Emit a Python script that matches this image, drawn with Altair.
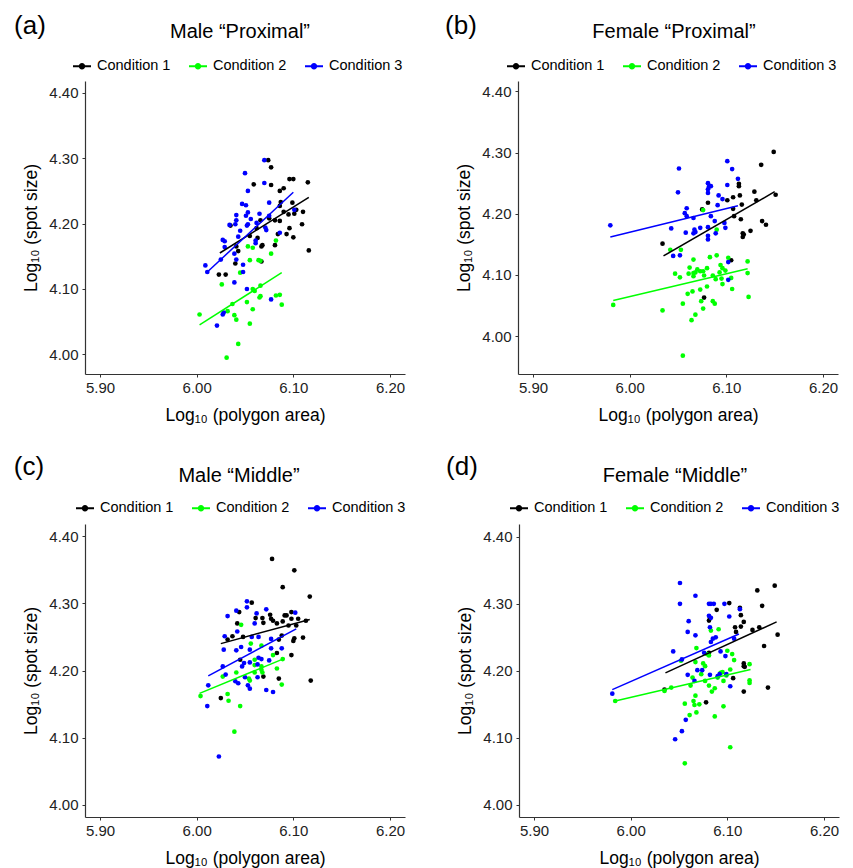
import altair as alt
import pandas as pd

FONT = "Liberation Sans"
CONDITIONS = ["Condition 1", "Condition 2", "Condition 3"]
COLORS = ["#000000", "#00FF00", "#0000FF"]
X_TICKS = [5.90, 6.00, 6.10, 6.20]
Y_TICKS = [4.00, 4.10, 4.20, 4.30, 4.40]
X_DOMAIN = [5.8845, 6.2155]

# ---------------- Panel (a): Male "Proximal" ----------------
A_C1_X = [6.023, 6.030, 6.035, 6.040, 6.041, 6.043, 6.055, 6.059, 6.062, 6.063, 6.066, 6.067, 6.067, 6.068,
          6.074, 6.077, 6.077, 6.075, 6.081, 6.081, 6.086, 6.084, 6.086, 6.087, 6.086, 6.090, 6.090, 6.093,
          6.096, 6.100, 6.099, 6.095, 6.096, 6.100, 6.101, 6.103, 6.109, 6.110, 6.115, 6.116]
A_C1_Y = [4.122, 4.122, 4.197, 4.139, 4.165, 4.158, 4.181, 4.260, 4.193, 4.178, 4.205, 4.165, 4.142, 4.167,
          4.297, 4.286, 4.259, 4.208, 4.205, 4.167, 4.204, 4.184, 4.250, 4.233, 4.227, 4.254, 4.218, 4.184,
          4.268, 4.268, 4.232, 4.214, 4.193, 4.179, 4.215, 4.221, 4.199, 4.218, 4.263, 4.159]
A_C2_X = [6.003, 6.026, 6.032, 6.031, 6.037, 6.039, 6.041, 6.043, 6.045, 6.053, 6.058, 6.055, 6.052, 6.055,
          6.058, 6.058, 6.060, 6.064, 6.066, 6.066, 6.065, 6.066, 6.077, 6.082, 6.082, 6.086, 6.088]
A_C2_Y = [4.061, 4.107, 4.066, 3.995, 4.077, 4.060, 4.053, 4.016, 4.125, 4.165, 4.163, 4.144, 4.080, 4.047,
          4.069, 4.100, 4.097, 4.144, 4.143, 4.105, 4.087, 4.089, 4.154, 4.174, 4.090, 4.091, 4.076]
A_C3_X = [6.009, 6.011, 6.021, 6.027, 6.028, 6.025, 6.027, 6.029, 6.029, 6.034, 6.039, 6.039, 6.040, 6.041,
          6.041, 6.041, 6.043, 6.045, 6.047, 6.048, 6.048, 6.050, 6.051, 6.051, 6.053, 6.053, 6.052, 6.053,
          6.056, 6.052, 6.061, 6.061, 6.062, 6.065, 6.070, 6.070, 6.071, 6.072, 6.075, 6.075, 6.077, 6.086,
          6.101]
A_C3_Y = [4.136, 4.126, 4.044, 4.061, 4.064, 4.145, 4.175, 4.173, 4.164, 4.198, 4.110, 4.154, 4.199, 4.213,
          4.205, 4.145, 4.180, 4.189, 4.230, 4.126, 4.137, 4.277, 4.228, 4.212, 4.217, 4.250, 4.197, 4.199,
          4.207, 4.100, 4.174, 4.170, 4.201, 4.215, 4.262, 4.297, 4.194, 4.190, 4.232, 4.212, 4.084, 4.186,
          4.221]
A_FIT_X = [[6.024, 6.116], [6.003, 6.088], [6.011, 6.100]]
A_FIT_Y = [[4.155, 4.240], [4.045, 4.125], [4.126, 4.248]]

# ---------------- Panel (b): Female "Proximal" ----------------
B_C1_X = [6.034, 6.081, 6.077, 6.101, 6.107, 6.113, 6.113, 6.114, 6.116, 6.107, 6.108, 6.115, 6.117, 6.118,
          6.117, 6.125, 6.105, 6.129, 6.131, 6.136, 6.137, 6.141, 6.149, 6.151, 6.075]
B_C1_Y = [4.151, 4.218, 4.063, 4.222, 4.227, 4.249, 4.245, 4.230, 4.215, 4.208, 4.196, 4.191, 4.168, 4.166,
          4.162, 4.172, 4.124, 4.236, 4.222, 4.280, 4.188, 4.182, 4.301, 4.231, 4.207]
B_C2_X = [5.983, 6.034, 6.042, 6.053, 6.047, 6.052, 6.055, 6.055, 6.060, 6.062, 6.061, 6.066, 6.066, 6.066,
          6.068, 6.070, 6.073, 6.076, 6.073, 6.074, 6.076, 6.068, 6.064, 6.065, 6.080, 6.080, 6.076, 6.083,
          6.090, 6.086, 6.086, 6.088, 6.089, 6.090, 6.093, 6.094, 6.096, 6.095, 6.096, 6.099, 6.102, 6.105,
          6.106, 6.122, 6.122, 6.123, 6.077]
B_C2_Y = [4.051, 4.042, 4.141, 4.141, 4.102, 4.096, 4.053, 3.968, 4.069, 4.112, 4.102, 4.125, 4.103, 4.098,
          4.104, 4.109, 4.106, 4.106, 4.076, 4.057, 4.045, 4.035, 4.026, 4.073, 4.111, 4.081, 4.206, 4.129,
          4.132, 4.099, 4.057, 4.053, 4.093, 4.174, 4.104, 4.116, 4.111, 4.094, 4.085, 4.107, 4.128, 4.095,
          4.077, 4.122, 4.103, 4.064, 4.099]
B_C3_X = [5.980, 6.043, 6.045, 6.052, 6.051, 6.050, 6.059, 6.057, 6.059, 6.058, 6.066, 6.067, 6.066, 6.068,
          6.073, 6.081, 6.082, 6.084, 6.081, 6.081, 6.081, 6.081, 6.081, 6.084, 6.088, 6.089, 6.091, 6.092,
          6.096, 6.099, 6.098, 6.101, 6.101, 6.106, 6.112, 6.102, 6.102]
B_C3_Y = [4.181, 4.176, 4.131, 4.132, 4.274, 4.235, 4.209, 4.201, 4.196, 4.169, 4.193, 4.174, 4.168, 4.170,
          4.177, 4.250, 4.244, 4.245, 4.240, 4.234, 4.178, 4.158, 4.164, 4.196, 4.188, 4.168, 4.214, 4.230,
          4.224, 4.177, 4.185, 4.286, 4.247, 4.273, 4.257, 4.121, 4.092]
B_FIT_X = [[6.035, 6.150], [5.983, 6.122], [5.980, 6.112]]
B_FIT_Y = [[4.131, 4.236], [4.058, 4.110], [4.162, 4.213]]

# ---------------- Panel (c): Male "Middle" ----------------
C_C1_X = [6.025, 6.032, 6.037, 6.042, 6.044, 6.045, 6.048, 6.057, 6.061, 6.068, 6.069, 6.069, 6.076, 6.077,
          6.079, 6.078, 6.083, 6.083, 6.085, 6.085, 6.088, 6.089, 6.089, 6.091, 6.093, 6.095, 6.098, 6.098,
          6.098, 6.100, 6.101, 6.101, 6.103, 6.105, 6.110, 6.113, 6.117, 6.118]
C_C1_Y = [4.159, 4.246, 4.251, 4.270, 4.287, 4.216, 4.250, 4.301, 4.278, 4.278, 4.271, 4.191, 4.283, 4.277,
          4.274, 4.366, 4.270, 4.226, 4.188, 4.246, 4.252, 4.324, 4.273, 4.282, 4.282, 4.267, 4.287, 4.277,
          4.223, 4.244, 4.248, 4.349, 4.267, 4.277, 4.249, 4.274, 4.310, 4.185]
C_C2_X = [6.004, 6.027, 6.032, 6.033, 6.039, 6.041, 6.045, 6.046, 6.054, 6.055, 6.056, 6.060, 6.060, 6.060,
          6.067, 6.067, 6.067, 6.068, 6.079, 6.083, 6.089, 6.088]
C_C2_Y = [4.162, 4.191, 4.165, 4.155, 4.109, 4.197, 4.147, 4.268, 4.188, 4.185, 4.240, 4.216, 4.208, 4.197,
          4.237, 4.206, 4.201, 4.197, 4.223, 4.203, 4.217, 4.179]
C_C3_X = [6.011, 6.012, 6.023, 6.027, 6.028, 6.029, 6.030, 6.032, 6.041, 6.042, 6.041, 6.040, 6.043, 6.046,
          6.047, 6.049, 6.050, 6.052, 6.052, 6.053, 6.055, 6.055, 6.055, 6.057, 6.060, 6.062, 6.063, 6.064,
          6.064, 6.067, 6.063, 6.072, 6.072, 6.075, 6.077, 6.077, 6.079, 6.088, 6.102]
C_C3_Y = [4.147, 4.178, 4.072, 4.206, 4.231, 4.251, 4.194, 4.281, 4.289, 4.258, 4.230, 4.184, 4.181, 4.235,
          4.206, 4.211, 4.190, 4.303, 4.294, 4.178, 4.173, 4.212, 4.231, 4.250, 4.270, 4.285, 4.209, 4.250,
          4.219, 4.217, 4.190, 4.291, 4.171, 4.215, 4.247, 4.233, 4.168, 4.233, 4.286]
C_FIT_X = [[6.025, 6.117], [6.003, 6.091], [6.012, 6.103]]
C_FIT_Y = [[4.240, 4.276], [4.166, 4.218], [4.192, 4.262]]

# ---------------- Panel (d): Female "Middle" ----------------
D_C1_X = [6.035, 6.078, 6.081, 6.082, 6.089, 6.081, 6.102, 6.106, 6.108, 6.109, 6.113, 6.114, 6.114, 6.117,
          6.117, 6.117, 6.118, 6.117, 6.126, 6.131, 6.133, 6.136, 6.138, 6.142, 6.149, 6.152]
D_C1_Y = [4.172, 4.153, 4.275, 4.279, 4.291, 4.227, 4.301, 4.189, 4.265, 4.258, 4.294, 4.283, 4.266, 4.273,
          4.211, 4.207, 4.206, 4.169, 4.261, 4.320, 4.265, 4.297, 4.237, 4.175, 4.327, 4.254]
D_C2_X = [5.984, 6.035, 6.042, 6.052, 6.056, 6.056, 6.061, 6.062, 6.064, 6.065, 6.066, 6.067, 6.068, 6.068,
          6.067, 6.071, 6.073, 6.075, 6.077, 6.077, 6.079, 6.081, 6.081, 6.083, 6.084, 6.087, 6.087, 6.091,
          6.090, 6.093, 6.095, 6.096, 6.096, 6.099, 6.100, 6.103, 6.105, 6.107, 6.103, 6.123, 6.123, 6.123]
D_C2_Y = [4.155, 4.170, 4.175, 4.215, 4.151, 4.062, 4.134, 4.178, 4.190, 4.155, 4.149, 4.163, 4.234, 4.138,
          4.213, 4.150, 4.195, 4.211, 4.207, 4.185, 4.225, 4.223, 4.178, 4.260, 4.169, 4.174, 4.132, 4.262,
          4.190, 4.197, 4.198, 4.185, 4.147, 4.193, 4.230, 4.202, 4.225, 4.216, 4.086, 4.210, 4.186, 4.182]
D_C3_X = [5.981, 6.044, 6.051, 6.051, 6.053, 6.053, 6.046, 6.057, 6.059, 6.060, 6.059, 6.066, 6.067, 6.067,
          6.069, 6.074, 6.076, 6.081, 6.083, 6.086, 6.081, 6.083, 6.082, 6.082, 6.083, 6.085, 6.088, 6.090,
          6.092, 6.093, 6.097, 6.098, 6.099, 6.102, 6.103, 6.107, 6.113]
D_C3_Y = [4.166, 4.229, 4.331, 4.300, 4.217, 4.110, 4.098, 4.127, 4.194, 4.274, 4.258, 4.185, 4.312, 4.253,
          4.201, 4.201, 4.227, 4.300, 4.300, 4.300, 4.282, 4.279, 4.265, 4.194, 4.243, 4.248, 4.250, 4.192,
          4.195, 4.229, 4.300, 4.222, 4.195, 4.281, 4.177, 4.248, 4.292]
D_FIT_X = [[6.036, 6.151], [5.984, 6.124], [5.981, 6.112]]
D_FIT_Y = [[4.197, 4.273], [4.155, 4.202], [4.172, 4.255]]

PANELS = [
    dict(label="(a)", title="Male \u201cProximal\u201d",
         pts=[(A_C1_X, A_C1_Y), (A_C2_X, A_C2_Y), (A_C3_X, A_C3_Y)], fit=(A_FIT_X, A_FIT_Y),
         ydom=[3.970, 4.418], lab=(-55, -55), ttl=(155, -49), leg=(-12, -24)),
    dict(label="(b)", title="Female \u201cProximal\u201d",
         pts=[(B_C1_X, B_C1_Y), (B_C2_X, B_C2_Y), (B_C3_X, B_C3_Y)], fit=(B_FIT_X, B_FIT_Y),
         ydom=[3.938, 4.417], lab=(-57, -55), ttl=(156, -49), leg=(-11, -24)),
    dict(label="(c)", title="Male \u201cMiddle\u201d",
         pts=[(C_C1_X, C_C1_Y), (C_C2_X, C_C2_Y), (C_C3_X, C_C3_Y)], fit=(C_FIT_X, C_FIT_Y),
         ydom=[3.982, 4.418], lab=(-56, -57), ttl=(154, -48), leg=(-9, -25)),
    dict(label="(d)", title="Female \u201cMiddle\u201d",
         pts=[(D_C1_X, D_C1_Y), (D_C2_X, D_C2_Y), (D_C3_X, D_C3_Y)], fit=(D_FIT_X, D_FIT_Y),
         ydom=[3.982, 4.419], lab=(-57, -57), ttl=(156, -48), leg=(-9, -25)),
]

LEGEND_SYMBOL = ("M-1,-0.11H1V0.11H-1Z "
                 "M-0.36,0A0.36,0.36 0 1,1 0.36,0A0.36,0.36 0 1,1 -0.36,0Z")


def make_panel(p):
    rows = []
    for cond, (xs, ys) in zip(CONDITIONS, p["pts"]):
        assert len(xs) == len(ys), (p["label"], cond, len(xs), len(ys))
        rows += [dict(cond=cond, x=a, y=b) for a, b in zip(xs, ys)]
    pts = pd.DataFrame(rows)
    lrows = []
    fx, fy = p["fit"]
    for cond, xs, ys in zip(CONDITIONS, fx, fy):
        lrows += [dict(cond=cond, x=a, y=b) for a, b in zip(xs, ys)]
    fits = pd.DataFrame(lrows)

    xsc = alt.Scale(domain=X_DOMAIN, nice=False, zero=False)
    ysc = alt.Scale(domain=p["ydom"], nice=False, zero=False)
    xenc = alt.X("x:Q", scale=xsc,
                 axis=alt.Axis(values=X_TICKS, format=".2f", title="Log\u2081\u2080 (polygon area)",
                               labelPadding=3, titlePadding=11))
    yenc = alt.Y("y:Q", scale=ysc,
                 axis=alt.Axis(values=Y_TICKS, format=".2f", title="Log\u2081\u2080 (spot size)",
                               labelPadding=4, titlePadding=8))
    cscale = alt.Scale(domain=CONDITIONS, range=COLORS)

    points = alt.Chart(pts).mark_circle(size=22, opacity=1).encode(
        x=xenc, y=yenc,
        fill=alt.Fill("cond:N", scale=cscale,
                      legend=alt.Legend(title=None, orient="none", legendX=p["leg"][0], legendY=p["leg"][1],
                                        direction="horizontal", symbolType=LEGEND_SYMBOL, symbolSize=324,
                                        symbolStrokeWidth=0, labelFont=FONT, labelFontSize=14.5,
                                        labelColor="#000000", columnPadding=18, labelOffset=6, padding=0)),
    )
    lines = alt.Chart(fits).mark_line(strokeWidth=1.5).encode(
        x=xenc, y=yenc,
        stroke=alt.Stroke("cond:N", scale=cscale, legend=None),
    )
    lab = alt.Chart(pd.DataFrame({"t": [p["label"]]})).mark_text(
        font=FONT, fontSize=26, align="center", baseline="middle", color="#000000"
    ).encode(x=alt.value(p["lab"][0]), y=alt.value(p["lab"][1]), text="t:N")
    ttl = alt.Chart(pd.DataFrame({"t": [p["title"]]})).mark_text(
        font=FONT, fontSize=20, align="center", baseline="middle", color="#000000"
    ).encode(x=alt.value(p["ttl"][0]), y=alt.value(p["ttl"][1]), text="t:N")
    return alt.layer(points, lines, lab, ttl).properties(width=320, height=293)


charts = [make_panel(p) for p in PANELS]
top = alt.hconcat(charts[0], charts[1], spacing=40).resolve_scale(
    fill="independent", stroke="independent").resolve_legend(fill="independent")
bottom = alt.hconcat(charts[2], charts[3], spacing=40).resolve_scale(
    fill="independent", stroke="independent").resolve_legend(fill="independent")
chart = alt.vconcat(top, bottom, spacing=30).resolve_scale(
    fill="independent", stroke="independent").resolve_legend(fill="independent")

chart = chart.configure(font=FONT).configure_view(stroke=None).configure_axis(
    grid=False, domainColor="#333333", tickColor="#333333", labelColor="#222222",
    labelFont=FONT, labelFontSize=15, titleFont=FONT, titleFontSize=17.5, titleFontWeight="normal",
    titleColor="#000000", tickSize=3, domainWidth=1.2, tickWidth=1
).properties(padding=5)

chart.save("out.html", embed_options={"renderer": "svg", "actions": False})
